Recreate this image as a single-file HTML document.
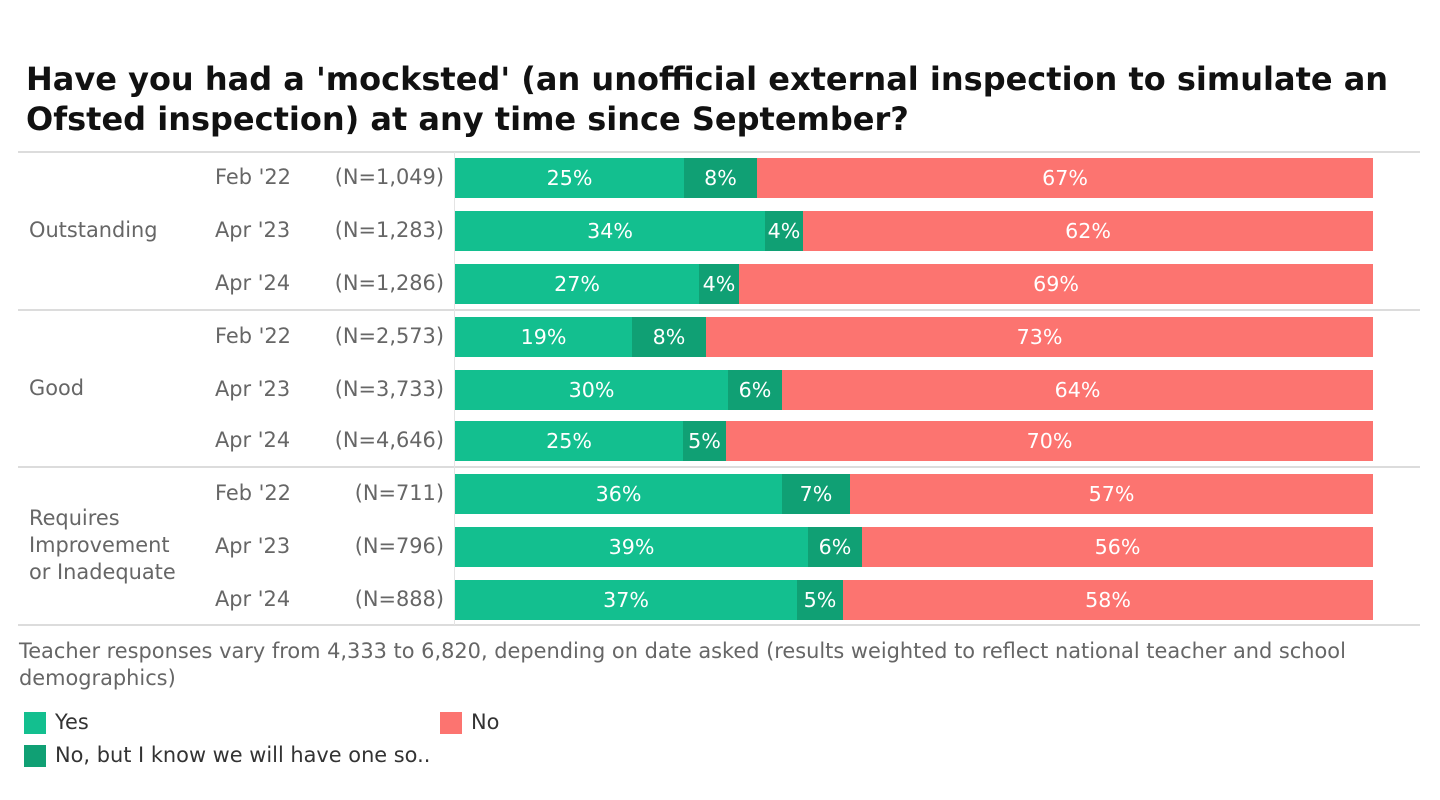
<!DOCTYPE html>
<html><head><meta charset="utf-8"><style>
body{margin:0;width:1440px;height:800px;background:#fff;font-family:"DejaVu Sans","Liberation Sans",sans-serif;position:relative;overflow:hidden}
.a{position:absolute;white-space:nowrap}
.t{font-weight:bold;font-size:32px;color:#111;left:26px;line-height:40px}
.l{font-size:20.9px;color:#666}
.s{position:absolute;height:40px;color:#fff;font-size:20.6px;display:flex;align-items:center;justify-content:center}
.y{background:#13bf8f}.d{background:#10a074}.n{background:#fc7470}
.h{position:absolute;left:18px;width:1402px;height:2px;background:#dcdcdc}
.sq{position:absolute;width:22px;height:22px}
</style></head><body>
<div class="a t" style="top:59px">Have you had a 'mocksted' (an unofficial external inspection to simulate an</div>
<div class="a t" style="top:99px">Ofsted inspection) at any time since September?</div>
<div class="h" style="top:151px"></div><div class="h" style="top:309px"></div><div class="h" style="top:466px"></div><div class="h" style="top:624px"></div>
<div style="position:absolute;left:454px;top:152px;width:1px;height:473px;background:#e4e4e4"></div>
<div class="a l" style="left:29px;top:218px">Outstanding</div>
<div class="a l" style="left:29px;top:376px">Good</div>
<div class="a l" style="left:29px;top:505px;line-height:27px">Requires<br>Improvement<br>or Inadequate</div>
<div id="rows"></div>
<script>
var r=[["Feb '22","(N=1,049)",684,757,25,8,67],["Apr '23","(N=1,283)",765,803,34,4,62],["Apr '24","(N=1,286)",699,739,27,4,69],
["Feb '22","(N=2,573)",632,706,19,8,73],["Apr '23","(N=3,733)",728,782,30,6,64],["Apr '24","(N=4,646)",683,726,25,5,70],
["Feb '22","(N=711)",782,850,36,7,57],["Apr '23","(N=796)",808,862,39,6,56],["Apr '24","(N=888)",797,843,37,5,58]];
var tops=[158,211,264,317,370,421,474,527,580],h="";
r.forEach(function(e,i){var t=tops[i];
h+='<div class="a l" style="left:215px;top:'+(t+7)+'px">'+e[0]+'</div>';
h+='<div class="a l" style="right:996px;top:'+(t+7)+'px">'+e[1]+'</div>';
h+='<div class="s y" style="left:455px;top:'+t+'px;width:'+(e[2]-455)+'px">'+e[4]+'%</div>';
h+='<div class="s d" style="left:'+e[2]+'px;top:'+t+'px;width:'+(e[3]-e[2])+'px">'+e[5]+'%</div>';
h+='<div class="s n" style="left:'+e[3]+'px;top:'+t+'px;width:'+(1373-e[3])+'px">'+e[6]+'%</div>';});
document.getElementById('rows').innerHTML=h;
</script>
<div class="a l" style="left:19px;top:638px;line-height:27px">Teacher responses vary from 4,333 to 6,820, depending on date asked (results weighted to reflect national teacher and school<br>demographics)</div>
<div class="sq y" style="left:24px;top:712px"></div><div class="a l" style="left:55px;top:710px;color:#333">Yes</div>
<div class="sq n" style="left:440px;top:712px"></div><div class="a l" style="left:471px;top:710px;color:#333">No</div>
<div class="sq d" style="left:24px;top:745px"></div><div class="a l" style="left:55px;top:743px;color:#333">No, but I know we will have one so..</div>
</body></html>
